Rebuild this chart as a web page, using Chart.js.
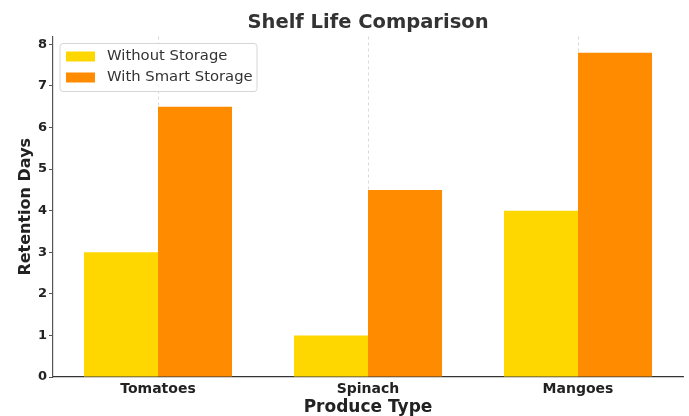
<!DOCTYPE html>
<html>
<head>
<meta charset="utf-8">
<title>Shelf Life Comparison</title>
<script src="https://cdn.jsdelivr.net/npm/chart.js@4/dist/chart.umd.min.js"></script>
<style>
  html, body { margin: 0; padding: 0; background: #ffffff; }
  #wrap { width: 689px; height: 416px; }
</style>
</head>
<body>
<div id="wrap"><canvas id="chart" width="689" height="416"></canvas></div>
<script>
// Produce categories and retention days per storage type
const categories = ['Tomatoes', 'Spinach', 'Mangoes'];
const withoutStorage = [3, 1, 4];
const withSmartStorage = [6.5, 4.5, 7.8];
const seriesLabels = ['Without Storage', 'With Smart Storage'];
const yTicks = [0, 1, 2, 3, 4, 5, 6, 7, 8];

const FONT = "'DejaVu Sans', 'Liberation Sans', sans-serif";
const YELLOW = '#FFD700';
const ORANGE = '#FF8C00';

// Legend box drawn inside the upper-left corner of the plot area
const insideLegend = {
  id: 'insideLegend',
  afterDraw(chart) {
    const ctx = chart.ctx;
    const area = chart.chartArea;
    const x = area.left + 7, y = area.top + 7, w = 197, h = 48, r = 3;
    ctx.save();
    ctx.beginPath();
    ctx.moveTo(x + r, y);
    ctx.arcTo(x + w, y, x + w, y + h, r);
    ctx.arcTo(x + w, y + h, x, y + h, r);
    ctx.arcTo(x, y + h, x, y, r);
    ctx.arcTo(x, y, x + w, y, r);
    ctx.closePath();
    ctx.fillStyle = 'rgba(255,255,255,0.85)';
    ctx.fill();
    ctx.strokeStyle = '#d6d6d6';
    ctx.lineWidth = 1;
    ctx.stroke();
    ctx.font = '14.8px ' + FONT;
    ctx.textBaseline = 'middle';
    ctx.textAlign = 'left';
    chart.data.datasets.forEach((ds, i) => {
      const rowY = y + 13 + i * 21;
      ctx.fillStyle = ds.backgroundColor;
      ctx.fillRect(x + 6, rowY - 5, 29, 10);
      ctx.fillStyle = '#333333';
      ctx.fillText(ds.label, x + 47, rowY);
    });
    ctx.restore();
  }
};

new Chart(document.getElementById('chart'), {
  type: 'bar',
  data: {
    labels: categories,
    datasets: [
      { label: seriesLabels[0], data: withoutStorage, backgroundColor: YELLOW },
      { label: seriesLabels[1], data: withSmartStorage, backgroundColor: ORANGE }
    ]
  },
  options: {
    responsive: false,
    animation: false,
    devicePixelRatio: 1,
    layout: { padding: { left: 0, right: 6, top: 0, bottom: 0 } },
    datasets: {
      bar: { categoryPercentage: 0.705, barPercentage: 1.0 }
    },
    plugins: {
      legend: { display: false },
      tooltip: { enabled: false },
      title: {
        display: true,
        fullSize: false,
        text: 'Shelf Life Comparison',
        color: '#333333',
        font: { family: FONT, size: 19.5, weight: 'bold', lineHeight: 1 },
        padding: { top: 13, bottom: 4 }
      }
    },
    scales: {
      x: {
        offset: true,
        grid: {
          display: true,
          offset: false,
          drawOnChartArea: true,
          tickLength: 0,
          color: '#d0d0d0',
          lineWidth: 0.8
        },
        border: { display: true, color: '#333333', width: 1.2, dash: [3, 3] },
        ticks: {
          color: '#222222',
          padding: 4,
          font: { family: FONT, size: 14, weight: 'bold' }
        },
        title: {
          display: true,
          text: 'Produce Type',
          color: '#222222',
          font: { family: FONT, size: 17, weight: 'bold', lineHeight: 1 },
          padding: 0
        },
        afterFit(scale) { scale.height = 39; }
      },
      y: {
        min: 0,
        max: 8.19,
        afterBuildTicks(scale) { scale.ticks = yTicks.map(v => ({ value: v })); },
        grid: {
          display: true,
          drawOnChartArea: false,
          drawTicks: true,
          tickLength: 4,
          color: '#555555',
          lineWidth: 1
        },
        border: { display: true, color: '#555555', width: 1.2 },
        ticks: {
          color: '#222222',
          padding: 2,
          font: { family: FONT, size: 13, weight: 'bold' }
        },
        title: {
          display: true,
          text: 'Retention Days',
          color: '#222222',
          font: { family: FONT, size: 16, weight: 'bold', lineHeight: 1 },
          padding: { top: 18, bottom: 0 }
        },
        afterFit(scale) { scale.width = 53; }
      }
    }
  },
  plugins: [insideLegend]
});
</script>
</body>
</html>
